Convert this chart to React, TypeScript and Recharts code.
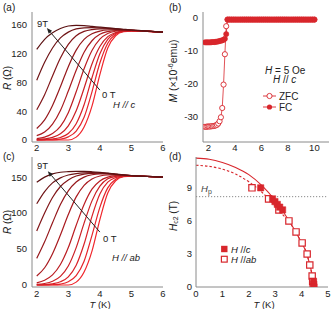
import React from "react";
import { ComposedChart, Line, Scatter, XAxis, YAxis, ZAxis, ReferenceLine } from "recharts";

const FONT = '"Liberation Sans", Arial, Helvetica, sans-serif';
const AXIS = "#8a8a8a";
const INK = "#222";
const RED = "#d8262c";

// (a) and (c): R(T) at H = 0 ... 9 T
const tempR = [2, 2.25, 2.5, 2.75, 3, 3.25, 3.5, 3.75, 4, 4.25, 4.5, 4.75, 5, 5.5, 6];
const fieldColors = ["#f0262c", "#e5232a", "#d92128", "#cb1f25", "#bb1c22", "#a91a1f", "#96181c", "#821619", "#6f1416", "#5c1213"];

// H // c
const rC0 = [0, 0, 0, 0, 0, 4, 18, 47, 91, 128, 145, 150.5, 151.4, 151, 150];
const rC1 = [0, 0, 0.2, 1.2, 4.3, 12.3, 31.6, 67, 107, 134.6, 147, 151, 151.6, 151, 150];
const rC2 = [0, 0.5, 1.3, 3.5, 9, 22.7, 49, 86.6, 120, 140, 148.5, 151.4, 151.8, 151, 150];
const rC3 = [0.5, 1.5, 3.7, 8.6, 19.7, 40.7, 72, 105.7, 130, 143.7, 149.4, 151.6, 152, 151.1, 150];
const rC4 = [2, 4, 9, 19, 38, 67, 99, 124.5, 140.4, 148.2, 151.3, 152.3, 152.3, 151.2, 150];
const rC5 = [6, 11, 22, 41, 68, 97, 122, 138, 147, 150.8, 152.3, 152.6, 152.4, 151.2, 150];
const rC6 = [16, 28, 48, 74, 102, 125, 140, 147.7, 151.5, 153, 153.2, 153, 152.6, 151.3, 150];
const rC7 = [42, 63, 89, 114, 133, 145, 151, 153.6, 154.6, 154.5, 154, 153.3, 152.7, 151.3, 150];
const rC8 = [83, 108, 128, 142, 150, 154.5, 156, 156.3, 156, 155.2, 154.3, 153.5, 152.9, 151.4, 150];
const rC9 = [126, 140, 149, 155, 158.5, 159.5, 159, 158, 157, 156, 155, 154, 153, 151.5, 150];

// H // ab
const rAb0 = [0, 0, 0, 0, 0, 4, 18, 47, 91, 128, 145, 150.5, 151.3, 150.9, 150];
const rAb1 = [0, 0, 0.3, 1.3, 4.5, 13, 33, 69, 108, 135, 147, 151, 151.5, 150.9, 150];
const rAb2 = [0, 0.5, 1.6, 4.4, 11.4, 27.5, 57, 95.5, 126.5, 143, 149.3, 151.3, 151.6, 150.9, 150];
const rAb3 = [0.9, 2.1, 5.2, 12, 26.4, 52, 86, 117, 137.4, 147.6, 151, 152, 151.8, 150.9, 150];
const rAb4 = [3, 6.6, 14, 28.4, 52, 83, 112, 133.3, 144.7, 150, 152, 152.3, 152, 150.9, 150];
const rAb5 = [12.5, 24, 43.5, 69.5, 98, 122.5, 138.6, 147.5, 151.6, 153, 153, 152.6, 152, 150.9, 150];
const rAb6 = [37, 60, 86.5, 112, 131, 143.2, 150, 153.3, 154.5, 154.5, 153.8, 152.9, 152, 151, 150];
const rAb7 = [75, 100, 121.6, 137, 146, 151.5, 154.2, 155.3, 155.5, 155, 154, 153, 152.1, 151, 150];
const rAb8 = [113, 130, 142, 149, 153, 155, 156, 156.3, 156, 155.2, 154, 153, 152.2, 151, 150];
const rAb9 = [143, 150, 154.5, 156.8, 157.6, 158, 158, 157.5, 156.6, 155.5, 154.3, 153.2, 152.3, 151, 150];

const curvesC = [rC0, rC1, rC2, rC3, rC4, rC5, rC6, rC7, rC8, rC9];
const curvesAb = [rAb0, rAb1, rAb2, rAb3, rAb4, rAb5, rAb6, rAb7, rAb8, rAb9];

// (b): M(T), ZFC / FC, H = 5 Oe
const magT = [
  1.75, 1.85, 1.95, 2.05, 2.15, 2.25, 2.35, 2.45, 2.55, 2.65, 2.75, 2.85, 2.95, 3.05, 3.15, 3.25, 3.35, 3.45,
  3.6, 3.76, 3.92, 4.08, 4.24, 4.4, 4.56, 4.72, 4.88, 5.04, 5.2, 5.36, 5.52, 5.68, 5.84, 6.0, 6.16, 6.32, 6.48, 6.64,
  6.8, 6.96, 7.12, 7.28, 7.44, 7.6, 7.76, 7.92, 8.08, 8.24, 8.4, 8.56, 8.72, 8.88, 9.04, 9.2, 9.36, 9.52, 9.68, 9.84, 10.0,
];
const zfcM = [
  -33, -33, -32.9, -32.9, -32.9, -32.8, -32.8, -32.7, -32.6, -32.4, -32.0, -31.3, -30.1, -27.3, -20.2, -11.0, -2.5, -0.5,
  -0.5, -0.5, -0.5, -0.5, -0.5, -0.5, -0.5, -0.5, -0.5, -0.5, -0.5, -0.5, -0.5, -0.5, -0.5, -0.5, -0.5, -0.5, -0.5, -0.5,
  -0.5, -0.5, -0.5, -0.5, -0.5, -0.5, -0.5, -0.5, -0.5, -0.5, -0.5, -0.5, -0.5, -0.5, -0.5, -0.5, -0.5, -0.5, -0.5, -0.5, -0.5,
];
const fcM = [
  -7.4, -7.4, -7.4, -7.4, -7.4, -7.35, -7.3, -7.3, -7.25, -7.2, -7.1, -7.0, -6.9, -6.8, -6.6, -6.3, -4.9, -0.5,
  -0.5, -0.5, -0.5, -0.5, -0.5, -0.5, -0.5, -0.5, -0.5, -0.5, -0.5, -0.5, -0.5, -0.5, -0.5, -0.5, -0.5, -0.5, -0.5, -0.5,
  -0.5, -0.5, -0.5, -0.5, -0.5, -0.5, -0.5, -0.5, -0.5, -0.5, -0.5, -0.5, -0.5, -0.5, -0.5, -0.5, -0.5, -0.5, -0.5, -0.5, -0.5,
];

// (d): Hc2(T)
const hcCT = [2.45, 2.9, 2.99, 3.08, 3.17, 3.28, 4.45, 4.46, 4.47];
const hcCH = [9, 8, 7.75, 7.5, 7.25, 7, 0.5, 0.25, 0];
const hcAbT = [2.12, 2.75, 3.14, 3.52, 3.79, 4.02, 4.21, 4.31, 4.4, 4.42, 4.44];
const hcAbH = [9, 8, 7, 6, 5, 4, 3, 2, 1, 0.5, 0];
const fitCT = [0, 0.5, 1, 1.5, 2, 2.5, 3, 3.5, 3.8, 4.0, 4.2, 4.3, 4.4, 4.47];
const fitCH = [11.7, 11.6, 11.3, 10.85, 10.2, 9.2, 7.85, 6.1, 4.9, 4.0, 3.0, 2.1, 1.1, 0];
const fitAbT = [0, 0.5, 1, 1.5, 2, 2.5, 2.75, 3, 3.25, 3.5, 3.8, 4.0, 4.2, 4.3, 4.4, 4.46];
const fitAbH = [11.05, 10.95, 10.7, 10.25, 9.55, 8.6, 8.0, 7.35, 6.65, 6.0, 4.9, 4.0, 3.0, 2.05, 1.0, 0];
const pauliH = 8.2;

const rowsR = (curves: number[][]) =>
  tempR.map((t, i) => {
    const row: Record<string, number> = { t };
    curves.forEach((c, k) => (row[`f${k}`] = c[i]));
    return row;
  });
const pairs = (ts: number[], hs: number[]) => ts.map((t, i) => ({ t, h: hs[i] }));

const magRows = magT.map((t, i) => ({ t, zfc: zfcM[i], fc: fcM[i] }));

const tickStyle = { fontSize: 9.5, fill: INK, fontFamily: FONT };
const blank = () => <g />;

// inward ticks on all four sides + top/right frame lines
function frame(xd: number[], yd: number[], xt: number[], yt: number[]) {
  const common = {
    type: "number" as const,
    allowDataOverflow: true,
    tick: blank,
    tickSize: 2.5,
    interval: 0 as const,
    tickLine: { stroke: AXIS },
    stroke: AXIS,
  };
  return [
    <XAxis key="ft" xAxisId="ft" orientation="top" mirror height={0} domain={xd} ticks={xt} {...common} />,
    <XAxis key="fb" xAxisId="fb" orientation="bottom" mirror height={0} domain={xd} ticks={xt} {...common} axisLine={false} />,
    <YAxis key="fl" yAxisId="fl" orientation="left" mirror width={0} domain={yd} ticks={yt} {...common} axisLine={false} />,
    <YAxis key="fr" yAxisId="fr" orientation="right" mirror width={0} domain={yd} ticks={yt} {...common} />,
  ];
}

const arrowShape = (p: any) => {
  const { x1, y1, x2, y2 } = p;
  const ang = Math.atan2(y1 - y2, x1 - x2);
  const L = 5.5;
  const W = 2.2;
  const bx = x1 - L * Math.cos(ang);
  const by = y1 - L * Math.sin(ang);
  const ox = -Math.sin(ang) * W;
  const oy = Math.cos(ang) * W;
  return (
    <g>
      <line x1={bx} y1={by} x2={x2} y2={y2} stroke={INK} strokeWidth={1} />
      <polygon points={`${x1},${y1} ${bx + ox},${by + oy} ${bx - ox},${by - oy}`} fill={INK} />
    </g>
  );
};

const rTicksX = [2, 2.5, 3, 3.5, 4, 4.5, 5, 5.5, 6];

function RPanel({ curves, yTicks, yMinor, arrow, tickMargin, xh, mt }: any) {
  const xd = [1.85, 6];
  const yd = [-2.8, 178];
  return (
    <ComposedChart width={166} height={xh + mt + 130} data={rowsR(curves)} margin={{ top: mt, right: 3, bottom: 0, left: 0 }}>
      {frame(xd, yd, rTicksX, yMinor)}
      <XAxis type="number" dataKey="t" domain={xd} ticks={[2, 3, 4, 5, 6]} interval={0} allowDataOverflow height={xh}
        tickLine={false} tickSize={0} tickMargin={tickMargin} axisLine={{ stroke: AXIS }} tick={tickStyle} />
      <YAxis type="number" domain={yd} ticks={yTicks} interval={0} allowDataOverflow width={32}
        tickLine={false} tickSize={0} tickMargin={5} axisLine={{ stroke: AXIS }} tick={tickStyle} />
      {curves.map((_: number[], k: number) => (
        <Line key={k} dataKey={`f${k}`} type="monotone" stroke={fieldColors[k]} strokeWidth={1.2} dot={false} isAnimationActive={false} />
      ))}
      <ReferenceLine segment={arrow} stroke={INK} shape={arrowShape} ifOverflow="visible" />
    </ComposedChart>
  );
}

function MPanel() {
  const xd = [1.6, 11.1];
  const yd = [-37.6, 1.8];
  return (
    <ComposedChart width={166} height={155} data={magRows} margin={{ top: 12, right: 3, bottom: 0, left: 0 }}>
      {frame(xd, yd, [2, 3, 4, 5, 6, 7, 8, 9, 10, 11], [0, -5, -10, -15, -20, -25, -30, -35])}
      <XAxis type="number" dataKey="t" domain={xd} ticks={[2, 4, 6, 8, 10]} interval={0} allowDataOverflow height={13}
        tickLine={false} tickSize={0} tickMargin={2.5} axisLine={{ stroke: AXIS }} tick={tickStyle} />
      <YAxis type="number" domain={yd} ticks={[0, -10, -20, -30]} interval={0} allowDataOverflow width={37}
        tickLine={false} tickSize={0} tickMargin={5} axisLine={{ stroke: AXIS }} tick={tickStyle} />
      <Line dataKey="zfc" type="linear" stroke={RED} strokeWidth={0.8} isAnimationActive={false}
        dot={{ r: 2.6, fill: "#fff", stroke: RED, strokeWidth: 0.9 }} />
      <Line dataKey="fc" type="linear" stroke={RED} strokeWidth={0.8} isAnimationActive={false}
        dot={{ r: 2.6, fill: RED, stroke: RED, strokeWidth: 0.6 }} />
    </ComposedChart>
  );
}

function HPanel() {
  const xd = [0, 5];
  const yd = [0, 11.8];
  return (
    <ComposedChart width={166} height={154} margin={{ top: 2, right: 4, bottom: 0, left: 0 }}>
      {frame(xd, yd, [0, 0.5, 1, 1.5, 2, 2.5, 3, 3.5, 4, 4.5, 5], [0, 1, 2, 3, 4, 5, 6, 7, 8, 9, 10, 11])}
      <XAxis type="number" dataKey="t" domain={xd} ticks={[0, 1, 2, 3, 4, 5]} interval={0} allowDataOverflow height={22}
        tickLine={false} tickSize={0} tickMargin={3.5} axisLine={{ stroke: AXIS }} tick={tickStyle} />
      <YAxis type="number" dataKey="h" domain={yd} ticks={[0, 3, 6, 9]} interval={0} allowDataOverflow width={30}
        tickLine={false} tickSize={0} tickMargin={4} axisLine={{ stroke: AXIS }} tick={tickStyle} />
      <ZAxis range={[40, 40]} />
      <ReferenceLine y={pauliH} stroke="#8a8a8a" strokeDasharray="1.2 1.8" strokeWidth={1} />
      <Line data={pairs(fitAbT, fitAbH)} dataKey="h" type="monotone" stroke={RED} strokeWidth={1.1}
        strokeDasharray="2.5 2" dot={false} isAnimationActive={false} />
      <Line data={pairs(fitCT, fitCH)} dataKey="h" type="monotone" stroke={RED} strokeWidth={1.1}
        dot={false} isAnimationActive={false} />
      <Scatter data={pairs(hcAbT, hcAbH)} shape="square" fill="#fff" stroke={RED} strokeWidth={1.2} isAnimationActive={false} />
      <Scatter data={pairs(hcCT, hcCH)} shape="square" fill={RED} stroke={RED} strokeWidth={0.5} isAnimationActive={false} />
    </ComposedChart>
  );
}

export default function App() {
  const abs = (left: number, top: number): React.CSSProperties => ({ position: "absolute", left, top });
  return (
    <div style={{ position: "absolute", left: 0, top: 0, width: 332, height: 309, background: "#fff", fontFamily: FONT }}>
      <div style={abs(0, 0)}>
        <RPanel curves={curvesC} yTicks={[0, 40, 80, 120, 160]} yMinor={[0, 20, 40, 60, 80, 100, 120, 140, 160]}
          arrow={[{ x: 2.32, y: 155.6 }, { x: 4.0, y: 69.4 }]} tickMargin={2.5} xh={13} mt={12} />
      </div>
      <div style={abs(166, 0)}>
        <MPanel />
      </div>
      <div style={abs(0, 155)}>
        <RPanel curves={curvesAb} yTicks={[0, 50, 100, 150]} yMinor={[0, 25, 50, 75, 100, 125, 150, 175]}
          arrow={[{ x: 2.35, y: 158.3 }, { x: 4.0, y: 73.6 }]} tickMargin={3.5} xh={22} mt={2} />
      </div>
      <div style={abs(166, 155)}>
        <HPanel />
      </div>
      <svg width={332} height={309} style={{ position: "absolute", left: 0, top: 0, pointerEvents: "none" }}
        fontFamily={FONT} fill={INK}>
        <text x={3} y={11} fontSize={10}>(a)</text>
        <text x={169} y={11} fontSize={10}>(b)</text>
        <text x={3} y={160} fontSize={10}>(c)</text>
        <text x={169} y={160} fontSize={10}>(d)</text>

        <text transform="translate(7,78) rotate(-90)" textAnchor="middle" dominantBaseline="central" fontSize={10}>
          <tspan fontStyle="italic">R</tspan> (Ω)
        </text>
        <text transform="translate(7,222) rotate(-90)" textAnchor="middle" dominantBaseline="central" fontSize={10}>
          <tspan fontStyle="italic">R</tspan> (Ω)
        </text>
        <text transform="translate(173,71) rotate(-90)" textAnchor="middle" dominantBaseline="central" fontSize={10.5}>
          <tspan fontStyle="italic">M</tspan> (×10<tspan fontSize={7} dy={-3.5}>-6</tspan><tspan dy={3.5}>emu)</tspan>
        </text>
        <text transform="translate(173,216) rotate(-90)" textAnchor="middle" dominantBaseline="central" fontSize={10}>
          <tspan fontStyle="italic">H</tspan><tspan fontSize={7} dy={2}>c2</tspan><tspan dy={-2}> (T)</tspan>
        </text>
        <text x={100} y={308} textAnchor="middle" fontSize={9.5}>
          <tspan fontStyle="italic">T</tspan> (K)
        </text>
        <text x={264} y={308} textAnchor="middle" fontSize={9.5}>
          <tspan fontStyle="italic">T</tspan> (K)
        </text>

        <text x={37} y={26.5} fontSize={9.5}>9T</text>
        <text x={102} y={98} fontSize={9.5}>0 T</text>
        <text x={113} y={107.5} fontSize={9.5} fontStyle="italic">H // c</text>
        <text x={37} y={168.5} fontSize={9.5}>9T</text>
        <text x={103} y={242} fontSize={9.5}>0 T</text>
        <text x={112} y={261} fontSize={9.5} fontStyle="italic">H // ab</text>

        <text x={265} y={73.5} fontSize={10}>
          <tspan fontStyle="italic">H</tspan> = 5 Oe
        </text>
        <text x={273} y={83} fontSize={10}>
          <tspan fontStyle="italic">H</tspan> // <tspan fontStyle="italic">c</tspan>
        </text>
        <line x1={263} x2={276} y1={96} y2={96} stroke={RED} strokeWidth={0.9} />
        <circle cx={269.5} cy={96} r={2.6} fill="#fff" stroke={RED} strokeWidth={0.9} />
        <text x={279} y={99.5} fontSize={10}>ZFC</text>
        <line x1={263} x2={276} y1={107} y2={107} stroke={RED} strokeWidth={0.9} />
        <circle cx={269.5} cy={107} r={2.6} fill={RED} />
        <text x={279} y={110.5} fontSize={10}>FC</text>

        <text x={201} y={191.5} fontSize={9.5} fill="#444">
          <tspan fontStyle="italic">H</tspan><tspan fontSize={7} dy={2}>p</tspan>
        </text>
        <rect x={221.1} y={245.8} width={6.4} height={6.4} fill={RED} />
        <text x={231} y={252.5} fontSize={9.5}>
          <tspan fontStyle="italic">H</tspan> //<tspan fontStyle="italic">c</tspan>
        </text>
        <rect x={221.4} y={256.3} width={5.8} height={5.8} fill="#fff" stroke={RED} strokeWidth={1.2} />
        <text x={231} y={263} fontSize={9.5}>
          <tspan fontStyle="italic">H</tspan> //<tspan fontStyle="italic">ab</tspan>
        </text>
      </svg>
    </div>
  );
}
